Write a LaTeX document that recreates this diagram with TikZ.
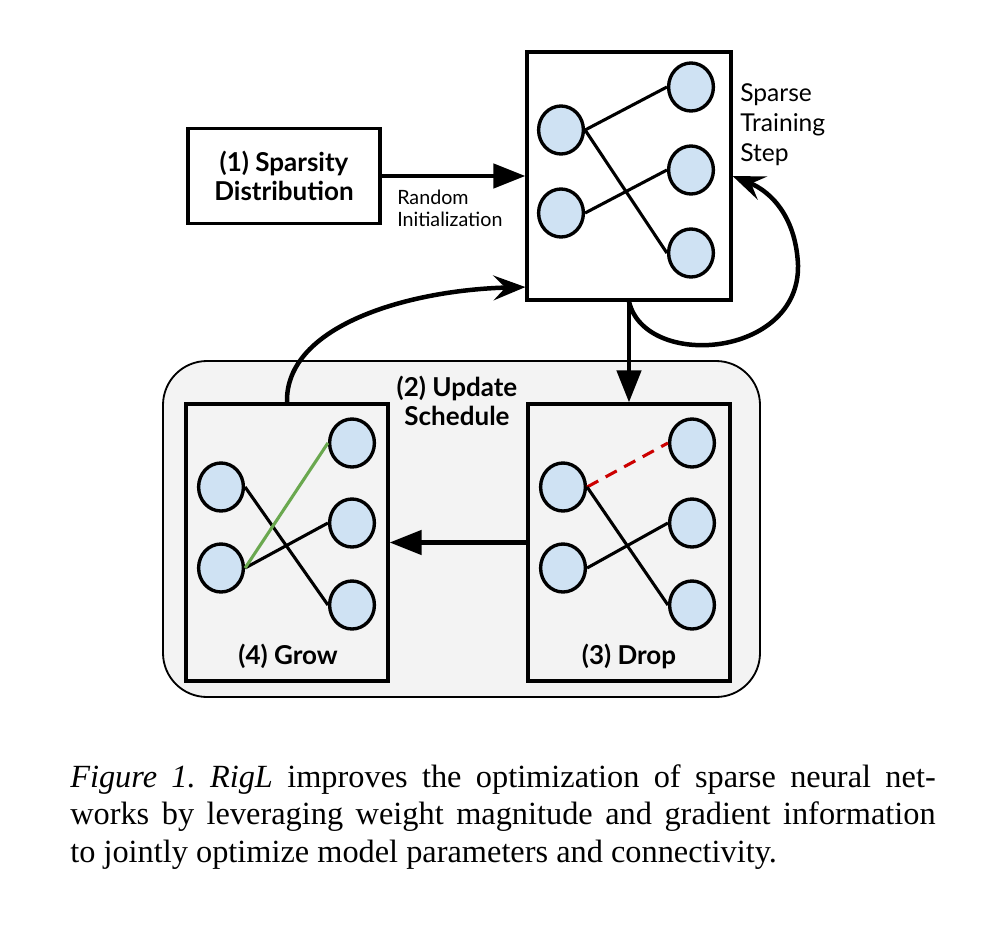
\documentclass[tikz,border=0pt]{standalone}
\usepackage{fontspec}
\setmainfont{Liberation Serif}
\newfontfamily\diagfont{Lato}
\usetikzlibrary{arrows.meta,shapes.geometric}
\definecolor{nodeblue}{HTML}{CFE2F3}
\definecolor{panelgray}{HTML}{F3F3F3}
\definecolor{growgreen}{HTML}{6AA84F}
\definecolor{dropred}{HTML}{CC0000}
\begin{document}
\begin{tikzpicture}[x=0.025cm, y=-0.025cm,
	unit/.style={ellipse, draw, line width=2.4pt, fill=nodeblue, minimum width=1.12cm, minimum height=1.2cm, inner sep=0pt},
	panel/.style={draw, line width=2.2pt, inner sep=0pt},
	link/.style={line width=2.2pt},
	flow/.style={line width=3.2pt, -{Triangle[length=0.8cm,width=0.6cm]}},
	loopback/.style={line width=3.2pt, -{Stealth[length=0.8cm,width=0.62cm,inset=0.3cm]}},
	boldlabel/.style={font=\diagfont\bfseries\fontsize{18.5}{21}\selectfont, align=center, inner sep=0pt},
	plainlabel/.style={font=\diagfont\fontsize{14}{15.6}\selectfont, align=left, inner sep=0pt}]
	\useasboundingbox (0,0) rectangle (1006,940);
	% update schedule panel
	\draw[fill=panelgray, line width=1.3pt, rounded corners=1.1cm] (163,361) rectangle (760,697);
	\node[boldlabel] at (457,401) (sched) {(2) Update\\Schedule};
	% boxes
	\node[panel, boldlabel, minimum width=4.8cm, minimum height=2.375cm] at (284,176) (spars) {(1) Sparsity\\Distribution};
	\node[panel, minimum width=5.1cm, minimum height=6.2cm] at (629,176) (top) {};
	\node[panel, minimum width=5.05cm, minimum height=6.925cm] at (287,542.5) (grow) {};
	\node[panel, minimum width=5.05cm, minimum height=6.925cm] at (629,542.5) (drop) {};
	\node[boldlabel] at (288,656) (growtxt) {(4) Grow};
	\node[boldlabel] at (629,656) (droptxt) {(3) Drop};
	\node[plainlabel, anchor=west] at (397,208) (randinit) {Random\\Initialization};
	\node[plainlabel, anchor=west, font=\diagfont\fontsize{17.5}{21.3}\selectfont] at (740,125) (steptxt) {Sparse\\Training\\Step};
	% sparse training step network
	\node[unit] at (561,130) (t1) {};
	\node[unit] at (561,213) (t2) {};
	\node[unit] at (691,87) (t3) {};
	\node[unit] at (691,170) (t4) {};
	\node[unit] at (691,253) (t5) {};
	\draw[link] (t1.east) -- (t3.west);
	\draw[link] (t1.east) -- (t5.west);
	\draw[link] (t2.east) -- (t4.west);
	% grow network
	\node[unit] at (221,487) (g1) {};
	\node[unit] at (221,568) (g2) {};
	\node[unit] at (352,443) (g3) {};
	\node[unit] at (352,523) (g4) {};
	\node[unit] at (352,605) (g5) {};
	\draw[link] (g1.east) -- (g5.west);
	\draw[link] (g2.east) -- (g4.west);
	\draw[link, growgreen] (g2.east) -- (g3.west);
	% drop network
	\node[unit] at (563,487) (d1) {};
	\node[unit] at (563,568) (d2) {};
	\node[unit] at (692,443) (d3) {};
	\node[unit] at (692,523) (d4) {};
	\node[unit] at (692,605) (d5) {};
	\draw[link, dropred, dash pattern=on 9pt off 6pt] (d1.east) -- (d3.west);
	\draw[link] (d1.east) -- (d5.west);
	\draw[link] (d2.east) -- (d4.west);
	% arrows
	\draw[flow] (spars.east) -- (top.west);
	\draw[flow] (top.south) -- (drop.north);
	\draw[flow] (drop.west) -- (grow.east);
	\draw[loopback] (top.south) .. controls (645,370) and (800,358) .. (798,265) .. controls (796,218) and (772,192) .. (top.east);
	\draw[loopback] (grow.north) .. controls (285,325) and (410,290) .. (top.227);
	% caption
	\node[anchor=north west, inner sep=0pt, text width=21.63cm, align=justify, font=\fontsize{23}{26.7}\selectfont] at (70,764) (caption) {\frenchspacing\tolerance=9999\emergencystretch=2em\textit{Figure 1.} \textit{RigL} improves the optimization of sparse neural net-\linebreak works by leveraging weight magnitude and gradient information\linebreak to jointly optimize model parameters and connectivity.};
\end{tikzpicture}
\end{document}
